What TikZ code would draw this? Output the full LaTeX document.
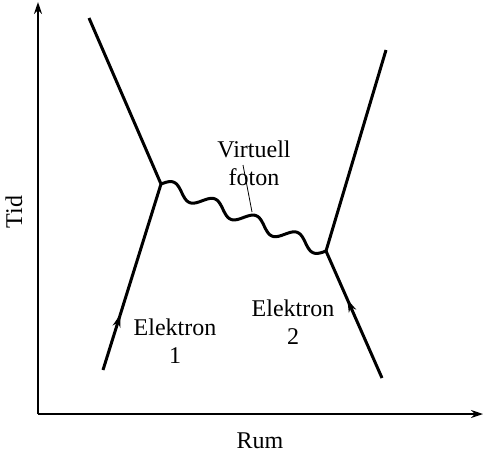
\documentclass[tikz,border=0pt]{standalone}
\usepackage{fontspec}
\setmainfont{Liberation Serif}
\usetikzlibrary{arrows.meta,decorations.markings}
\begin{document}
\begin{tikzpicture}[x=1pt,y=-1pt,
  axis/.style={line width=2pt,-{Stealth[length=12pt,width=8pt]}},
  fermion/.style={line width=3pt},
  midarrow/.style={postaction={decorate},decoration={markings,mark=at position #1 with {\arrow{Stealth[length=13pt,width=8pt]}}}},
  photon/.style={line width=3pt,line join=round},
  lbl/.style={font=\fontsize{24}{28}\selectfont,align=center,inner sep=0pt}]
\useasboundingbox (0,0) rectangle (484,453);
% axes
\coordinate (O) at (38,414);
\coordinate (Ytop) at (38,2);
\coordinate (Xend) at (483,414);
\draw[axis] (O) -- (Ytop);
\draw[axis] (O) -- (Xend);
\node[lbl,rotate=90] (tid) at (14,212) {Tid};
\node[lbl] (rum) at (260,441) {Rum};
% vertices and ends
\coordinate (v1) at (161,184);
\coordinate (v2) at (326,251);
\coordinate (e1in) at (103,370);
\coordinate (e1out) at (89,18);
\coordinate (e2in) at (382,378);
\coordinate (e2out) at (386,50);
\draw[fermion,midarrow=0.3] (e1in) -- (v1);
\draw[fermion] (v1) -- (e1out);
\draw[fermion,midarrow=0.62] (e2in) -- (v2);
\draw[fermion] (v2) -- (e2out);
% photon
\draw[photon] plot[domain=0:1,samples=200,variable=\t,smooth]
  ({161+165*\t+2.4*sin(1440*\t)},{184+67*\t-6*sin(1440*\t)});
% labels
\node[lbl] (vf) at (254,163) {Virtuell\\foton};
\coordinate (vfa) at (243,165);
\coordinate (vfb) at (252,212);
\draw[line width=0.8pt] (vfa) -- (vfb);
\node[lbl] (el1) at (175,341) {Elektron\\1};
\node[lbl] (el2) at (293,322) {Elektron\\2};
\end{tikzpicture}
\end{document}
